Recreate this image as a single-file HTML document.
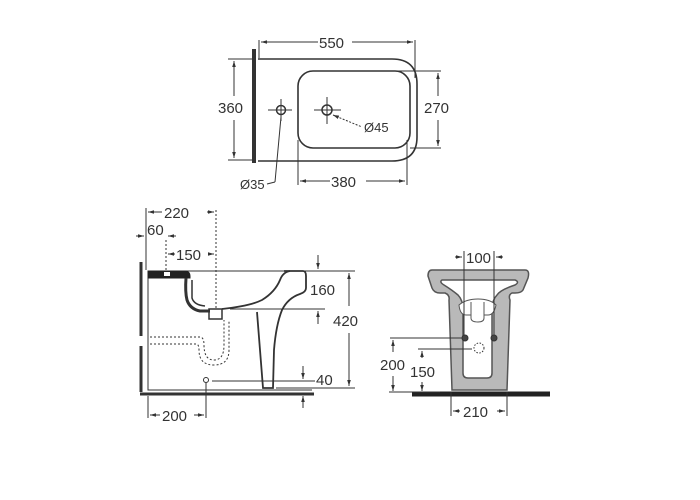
<!DOCTYPE html>
<html><head><meta charset="utf-8"><style>
html,body{margin:0;padding:0;background:#fff;}
svg{display:block;}
text{font-family:"Liberation Sans",sans-serif;font-size:15px;fill:#333;}
</style></head><body>
<svg width="700" height="500" viewBox="0 0 700 500" xmlns="http://www.w3.org/2000/svg">
<defs>
<marker id="a" viewBox="0 0 10 10" refX="10" refY="5" markerWidth="6" markerHeight="6" orient="auto-start-reverse"><path d="M0,2 L10,5 L0,8 z" fill="#333"/></marker>
</defs>
<g stroke="#333" fill="none" stroke-width="1">
<!-- TOP VIEW -->
<line x1="254" y1="49" x2="254" y2="163" stroke-width="4"/>
<path d="M258,59 H392 Q417,59 417,84 V137 Q417,161 392,161 H258" stroke-width="1.6"/>
<rect x="298" y="71" width="112" height="77" rx="15" stroke-width="1.6"/>
<line x1="259" y1="40" x2="259" y2="58"/><line x1="415" y1="40" x2="415" y2="78"/>
<line x1="261" y1="42" x2="318" y2="42" marker-start="url(#a)"/><line x1="352" y1="42" x2="413" y2="42" marker-end="url(#a)"/>
<line x1="228" y1="59" x2="252" y2="59"/><line x1="228" y1="160" x2="252" y2="160"/>
<line x1="234" y1="61" x2="234" y2="96" marker-start="url(#a)"/><line x1="234" y1="120" x2="234" y2="158" marker-end="url(#a)"/>
<line x1="392" y1="71" x2="441" y2="71"/><line x1="410" y1="148" x2="441" y2="148"/>
<line x1="438" y1="73" x2="438" y2="96" marker-start="url(#a)"/><line x1="438" y1="120" x2="438" y2="146" marker-end="url(#a)"/>
<line x1="298" y1="140" x2="298" y2="185"/><line x1="407" y1="140" x2="407" y2="185"/>
<line x1="300" y1="181" x2="330" y2="181" marker-start="url(#a)"/><line x1="366" y1="181" x2="405" y2="181" marker-end="url(#a)"/>
<circle cx="327" cy="110" r="5" stroke-width="1.5"/>
<line x1="314" y1="110" x2="341" y2="110"/><line x1="327" y1="97" x2="327" y2="124"/>
<circle cx="281" cy="110" r="4.5" stroke-width="1.5"/>
<line x1="268" y1="110" x2="292" y2="110"/><line x1="281" y1="99" x2="281" y2="121"/>
<line x1="333" y1="115" x2="362" y2="127" stroke-dasharray="2,1.5" marker-start="url(#a)"/>
<line x1="281" y1="117" x2="275" y2="182"/><line x1="267" y1="184" x2="275" y2="182"/>
<!-- SIDE VIEW -->
<line x1="141" y1="262" x2="141" y2="336" stroke-width="3"/>
<line x1="141" y1="346" x2="141" y2="392" stroke-width="3"/>
<path d="M148,272 V390 H312" />
<line x1="140" y1="394" x2="314" y2="394" stroke-width="3"/>
<line x1="148" y1="271" x2="355" y2="271"/>
<!-- top black strip -->
<path d="M148,271 H186 Q190,272 190,276 L190,278 H148 Z" fill="#222" stroke="#222"/>
<rect x="164" y="272" width="6" height="4" fill="#fff" stroke="none"/>
<!-- bowl outline -->
<path d="M186,278 Q185,292 187,300 Q190,309 200,311 L210,311" stroke-width="3"/>
<path d="M192,280 V298 Q194,305 205,306" stroke-width="1.5"/>
<path d="M222,309 Q250,306 262,300 Q275,292 280,280 Q283,272 290,271" stroke-width="1.8"/>
<path d="M284,271 H303 Q306,271 306,276 V288 Q306,292 300,294 Q288,298 282,310 Q276,325 274,350 L273,388 H263 L257,312" stroke-width="1.8"/>
<rect x="209" y="309" width="13" height="10" stroke-width="1.5"/>
<path d="M150,337 H200 Q204,337 204,345 Q204,360 214,360 Q224,360 224,345 V320 M150,344 H196 Q199,344 199,350 Q199,365 214,365 Q229,365 229,350 V320" stroke-dasharray="2,2" stroke-width="1"/>
<line x1="166" y1="240" x2="166" y2="272" stroke-dasharray="2,2"/>
<line x1="216" y1="210" x2="216" y2="309" stroke-dasharray="2,2"/>
<line x1="146" y1="208" x2="146" y2="270"/>
<line x1="148" y1="212" x2="162" y2="212" marker-start="url(#a)"/><line x1="207" y1="212" x2="214" y2="212" marker-end="url(#a)"/>
<line x1="136" y1="236" x2="144" y2="236" marker-end="url(#a)"/><line x1="176" y1="236" x2="168" y2="236" marker-end="url(#a)"/>
<line x1="168" y1="254" x2="175" y2="254" marker-start="url(#a)"/><line x1="208" y1="254" x2="214" y2="254" marker-end="url(#a)"/>
<line x1="318" y1="255" x2="318" y2="269" marker-end="url(#a)"/>
<line x1="318" y1="324" x2="318" y2="311" marker-end="url(#a)"/>
<line x1="230" y1="309" x2="325" y2="309"/>
<line x1="276" y1="388" x2="355" y2="388"/>
<line x1="349" y1="273" x2="349" y2="306" marker-start="url(#a)"/><line x1="349" y1="333" x2="349" y2="386" marker-end="url(#a)"/>
<line x1="303" y1="366" x2="303" y2="379" marker-end="url(#a)"/>
<line x1="212" y1="381" x2="315" y2="381"/>
<line x1="303" y1="408" x2="303" y2="396" marker-end="url(#a)"/>
<circle cx="206" cy="380" r="2.5"/>
<line x1="206" y1="383" x2="206" y2="418"/><line x1="148" y1="396" x2="148" y2="418"/>
<line x1="150" y1="415" x2="160" y2="415" marker-start="url(#a)"/><line x1="194" y1="415" x2="204" y2="415" marker-end="url(#a)"/>
<!-- FRONT VIEW -->
<path d="M432,270 H525 Q530,270 528,278 L523,290 Q521,293 515,293 L512,293 Q508,295 510,300 L507,390 H452 L449,300 Q450,295 445,293 L440,293 Q434,293 432,288 L428,276 Q428,270 432,270 Z" fill="#b9b9b9" stroke="#555" stroke-width="1.5"/>
<path d="M442,280 H515 Q520,282 515,285 Q500,290 497,295 Q492,300 492,310 V373 Q492,378 487,378 H468 Q463,378 463,373 V310 Q463,300 458,295 Q452,290 444,285 Q439,282 442,280 Z" fill="#fff" stroke="#555" stroke-width="1.5"/>
<path d="M459,305 Q466,299 478,299 Q490,299 496,305 Q494,315 488,315 H466 Q460,315 459,305 Z" fill="#fff" stroke="#555"/>
<path d="M471,302 V318 Q471,322 478,322 Q484,322 484,318 V302" fill="#fff" stroke="#555"/>
<line x1="412" y1="394" x2="550" y2="394" stroke-width="5" stroke="#222"/>
<line x1="464" y1="251" x2="464" y2="340"/><line x1="494" y1="251" x2="494" y2="340"/>
<line x1="455" y1="257" x2="462" y2="257" marker-end="url(#a)"/><line x1="503" y1="257" x2="496" y2="257" marker-end="url(#a)"/>
<circle cx="465" cy="338" r="3" fill="#444"/><circle cx="494" cy="338" r="3" fill="#444"/>
<circle cx="479" cy="348" r="5" stroke-dasharray="1.5,1.5"/>
<line x1="390" y1="338" x2="462" y2="338"/><line x1="418" y1="349" x2="472" y2="349"/>
<line x1="393" y1="340" x2="393" y2="352" marker-start="url(#a)"/><line x1="393" y1="376" x2="393" y2="391" marker-end="url(#a)"/>
<line x1="422" y1="351" x2="422" y2="358" marker-start="url(#a)"/><line x1="422" y1="382" x2="422" y2="391" marker-end="url(#a)"/>
<line x1="389" y1="392" x2="440" y2="392"/>
<line x1="451" y1="392" x2="451" y2="416"/><line x1="507" y1="392" x2="507" y2="416"/>
<line x1="453" y1="411" x2="460" y2="411" marker-start="url(#a)"/><line x1="497" y1="411" x2="505" y2="411" marker-end="url(#a)"/>
</g>
<text x="319" y="48">550</text>
<text x="218" y="113">360</text>
<text x="424" y="113">270</text>
<text x="331" y="187">380</text>
<text x="364" y="132" style="font-size:13px">Ø45</text>
<text x="240" y="189" style="font-size:13px">Ø35</text>
<text x="164" y="218">220</text>
<text x="147" y="235">60</text>
<text x="176" y="260">150</text>
<text x="310" y="295">160</text>
<text x="333" y="326">420</text>
<text x="316" y="385">40</text>
<text x="162" y="421">200</text>
<text x="466" y="263">100</text>
<text x="380" y="370">200</text>
<text x="410" y="377">150</text>
<text x="463" y="417">210</text>
</svg>
</body></html>
